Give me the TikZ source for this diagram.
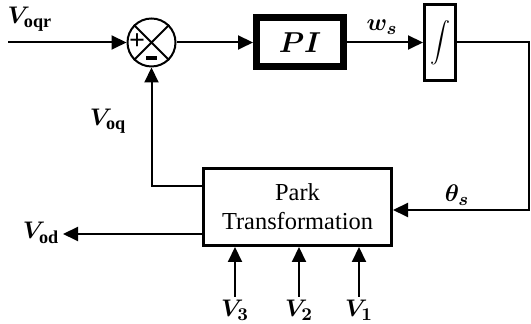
\documentclass[tikz,border=0pt]{standalone}
\usepackage{amsmath,bm}
\usepackage{fontspec}
\setmainfont{Liberation Serif}
\usetikzlibrary{arrows.meta}
\begin{document}
\begin{tikzpicture}[x=0.5pt,y=-0.5pt,
  line width=1pt,
  arr/.style={-{Triangle[length=7.5pt,width=7pt]}},
  lbl/.style={inner sep=0pt,font=\fontsize{13}{15}\selectfont},
  blk/.style={draw,rectangle,inner sep=0pt}]
\useasboundingbox (0,0) rectangle (531,324);
% blocks
\node[draw,circle,minimum size=24pt,inner sep=0pt] (sum) at (151.5,42.5) {};
\draw (sum.45) -- (sum.225) (sum.135) -- (sum.-45);
\node[inner sep=0pt,font=\fontsize{14}{14}\selectfont] (plus) at (137,41.5) {\textbf{+}};
\node[inner sep=0pt] (minus) at (151.5,58) {\rule{5.5pt}{1.6pt}};
\node[blk,line width=3.5pt,minimum width=43.5pt,minimum height=24.5pt,font=\fontsize{14}{16}\selectfont] (PI) at (300,42.5) {$\bm{PI}$};
\node[blk,line width=1.5pt,minimum width=15.5pt,minimum height=38pt] (int) at (440,42.5) {\fontsize{10}{11}\selectfont$\displaystyle\int$};
\node[blk,line width=1.5pt,minimum width=94pt,minimum height=38.5pt,align=center,font=\fontsize{12.2}{14.5}\selectfont] (park) at (297.5,207) {Park\\Transformation};
% coordinates
\coordinate (in) at (8,42.5);
\coordinate (c1) at (529,42.5);
\coordinate (c2) at (529,210);
\coordinate (fb) at (151.5,186);
\coordinate (od) at (63,234);
\coordinate (v3) at (235,297);
\coordinate (v2) at (299,297);
\coordinate (v1) at (359,297);
% connectors
\draw[arr] (in) -- (sum.west);
\draw[arr] (sum.east) -- (PI.west);
\draw[arr] (PI.east) -- (int.west);
\draw[arr] (int.east) -- (c1) -- (c2) -- (c2 -| park.east);
\draw[arr] (fb -| park.west) -- (fb) -- (sum.south);
\draw[arr] (od -| park.west) -- (od);
\draw[arr] (v3) -- (v3 |- park.south);
\draw[arr] (v2) -- (v2 |- park.south);
\draw[arr] (v1) -- (v1 |- park.south);
% labels
\node[lbl] (lvoqr) at (30,19) {$\bm{V}_{\mathbf{oqr}}$};
\node[lbl] (lws) at (382,27) {$\bm{w_s}$};
\node[lbl] (lth) at (457,195) {$\bm{\theta_s}$};
\node[lbl] (lvoq) at (108,121) {$\bm{V}_{\mathbf{oq}}$};
\node[lbl] (lvod) at (41,233) {$\bm{V}_{\mathbf{od}}$};
\node[lbl] (lv3) at (235,310) {$\bm{V_3}$};
\node[lbl] (lv2) at (299,310) {$\bm{V_2}$};
\node[lbl] (lv1) at (359,310) {$\bm{V_1}$};
\end{tikzpicture}
\end{document}
